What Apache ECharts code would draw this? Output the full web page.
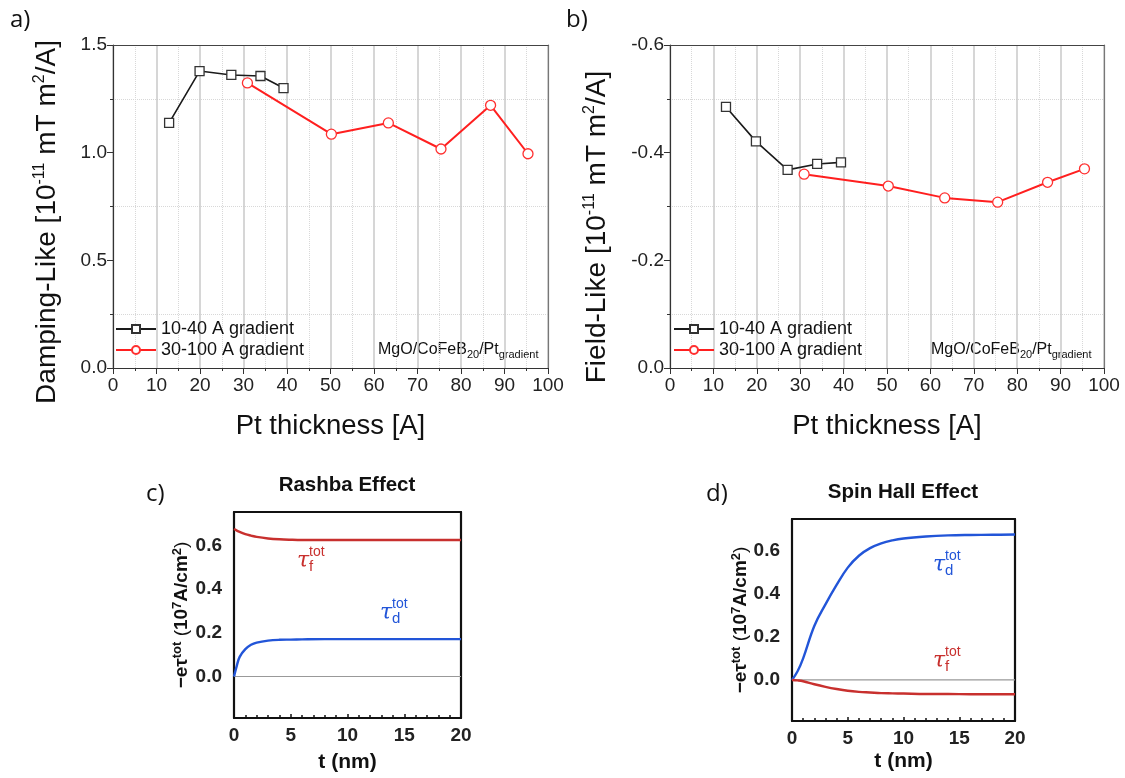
<!DOCTYPE html>
<html><head><meta charset="utf-8">
<script src="https://cdn.jsdelivr.net/npm/echarts@6/dist/echarts.min.js"></script>
<style>html,body{margin:0;padding:0;background:#fff}#c{width:1125px;height:778px}</style>
</head><body><div id="c"></div>
<script>
// ---------- data ----------
// Panel a: Damping-like torque vs Pt thickness
const thickA_black = [12.9, 19.9, 27.2, 33.9, 39.2];
const dampA_black  = [1.138, 1.379, 1.361, 1.356, 1.300];
const thickA_red   = [30.9, 50.2, 63.3, 75.4, 86.8, 95.4];
const dampA_red    = [1.324, 1.086, 1.138, 1.017, 1.220, 0.995];
// Panel b: Field-like torque vs Pt thickness
const thickB_black = [12.9, 19.8, 27.1, 33.9, 39.4];
const fieldB_black = [-0.485, -0.421, -0.368, -0.379, -0.382];
const thickB_red   = [30.9, 50.3, 63.3, 75.5, 87.0, 95.5];
const fieldB_red   = [-0.360, -0.338, -0.316, -0.308, -0.345, -0.370];
// Panel c: Rashba effect
const tC       = [0, 0.25, 0.5, 1, 1.5, 2, 3, 4, 5, 6, 8, 10, 15, 20];
const rashbaF  = [0.675, 0.668, 0.662, 0.652, 0.645, 0.639, 0.632, 0.628, 0.626, 0.625, 0.625, 0.625, 0.625, 0.625];
const rashbaD  = [0, 0.05, 0.09, 0.125, 0.145, 0.155, 0.164, 0.168, 0.169, 0.170, 0.171, 0.171, 0.171, 0.171];
// Panel d: Spin Hall effect
const tD       = [0, 0.5, 1, 2, 3, 4, 5, 6, 7, 8, 9, 10, 12, 14, 16, 18, 20];
const shD      = [0, 0.04, 0.10, 0.25, 0.35, 0.44, 0.52, 0.575, 0.61, 0.632, 0.646, 0.655, 0.664, 0.669, 0.671, 0.672, 0.673];
const shF      = [0, -0.002, -0.006, -0.02, -0.032, -0.042, -0.05, -0.055, -0.058, -0.061, -0.062, -0.063, -0.065, -0.065, -0.066, -0.066, -0.066];
// tick labels
const torqueTicks = [0, 0.2, 0.4, 0.6];
const legendNames = ['10-40 A gradient', '30-100 A gradient'];

const pairs = (xs, ys) => xs.map((x, i) => [x, ys[i]]);
const SANS = 'Liberation Sans, Arial, sans-serif';

// ---------- axes ----------
function thickX(grid) {
  return {
    gridIndex: grid, type: 'value', min: 0, max: 100, interval: 10,
    axisLine: {show: true, onZero: false, lineStyle: {color: '#333', width: 1.2}},
    axisTick: {show: true, inside: false, length: 6, lineStyle: {color: '#333'}},
    minorTick: {show: true, splitNumber: 2, length: 3, lineStyle: {color: '#333'}},
    axisLabel: {fontSize: 19, color: '#222', margin: 8, fontFamily: SANS},
    splitLine: {show: true, lineStyle: {color: '#c8c8c8', width: 1.5}},
    minorSplitLine: {show: true, lineStyle: {color: '#d8d8d8', type: 'dotted', width: 1}},
    name: 'Pt thickness [A]', nameLocation: 'middle', nameGap: 44,
    nameTextStyle: {fontSize: 27.5, color: '#111', fontFamily: SANS}
  };
}
function frameAx(grid, pos, min, max, color, width, inverse) {
  return {
    gridIndex: grid, type: 'value', position: pos, min: min, max: max, inverse: !!inverse,
    axisLine: {show: true, onZero: false, lineStyle: {color: color, width: width}},
    axisTick: {show: false}, axisLabel: {show: false}, splitLine: {show: false}
  };
}
function torqueY(grid, isA) {
  return {
    gridIndex: grid, type: 'value',
    min: isA ? 0 : -0.6, max: isA ? 1.5 : 0, interval: isA ? 0.5 : 0.2, inverse: !isA,
    axisLine: {show: true, onZero: false, lineStyle: {color: '#333', width: 1.2}},
    axisTick: {show: true, inside: false, length: 6, lineStyle: {color: '#333'}},
    minorTick: {show: true, splitNumber: 2, length: 3, lineStyle: {color: '#333'}},
    axisLabel: {fontSize: 19, color: '#222', margin: 6, fontFamily: SANS, formatter: v => v.toFixed(1)},
    splitLine: {show: false},
    minorSplitLine: {show: true, lineStyle: {color: '#d8d8d8', type: 'dotted', width: 1}}
  };
}
function tX(grid, gap) {
  return {
    gridIndex: grid, type: 'value', min: 0, max: 20, interval: 5,
    axisLine: {show: true, onZero: false, lineStyle: {color: '#111', width: 2.2}},
    axisTick: {show: true, inside: true, length: 4, lineStyle: {color: '#111', width: 1.5}},
    minorTick: {show: true, splitNumber: 5, length: 3, lineStyle: {color: '#111', width: 1.5}},
    axisLabel: {fontSize: 19, color: '#222', margin: 8, fontWeight: 'bold', fontFamily: SANS},
    splitLine: {show: false},
    name: 't (nm)', nameLocation: 'middle', nameGap: gap,
    nameTextStyle: {fontSize: 21, fontWeight: 'bold', color: '#111', fontFamily: SANS}
  };
}
function cY(grid, max) {
  return {
    gridIndex: grid, type: 'value', min: -0.19, max: max,
    axisLine: {show: true, onZero: false, lineStyle: {color: '#111', width: 2.2}},
    axisTick: {show: false},
    axisLabel: {fontSize: 19, color: '#222', margin: 12, fontWeight: 'bold', fontFamily: SANS,
                customValues: torqueTicks, formatter: v => v.toFixed(1)},
    splitLine: {show: false}
  };
}

const xAxis = [
  thickX(0), frameAx(0, 'top', 0, 100, '#444', 1.2),
  thickX(1), frameAx(1, 'top', 0, 100, '#444', 1.2),
  tX(2, 34), frameAx(2, 'top', 0, 20, '#111', 2.2),
  tX(3, 30), frameAx(3, 'top', 0, 20, '#111', 2.2)
];
const yAxis = [
  torqueY(0, true), frameAx(0, 'right', 0, 1.5, '#777', 1.2),
  torqueY(1, false), frameAx(1, 'right', -0.6, 0, '#777', 1.2, true),
  cY(2, 0.753), frameAx(2, 'right', -0.19, 0.753, '#111', 2.2),
  cY(3, 0.745), frameAx(3, 'right', -0.19, 0.745, '#111', 2.2)
];

// ---------- series ----------
function blackSeries(xi, yi, data) {
  return {name: legendNames[0], type: 'line', xAxisIndex: xi, yAxisIndex: yi, data: data,
    symbol: 'rect', symbolSize: 9, z: 3,
    itemStyle: {color: '#fff', borderColor: '#333', borderWidth: 1.3},
    lineStyle: {color: '#1a1a1a', width: 1.6}, emphasis: {disabled: true}};
}
function redSeries(xi, yi, data) {
  return {name: legendNames[1], type: 'line', xAxisIndex: xi, yAxisIndex: yi, data: data,
    symbol: 'circle', symbolSize: 10, z: 3,
    itemStyle: {color: '#fff', borderColor: '#ff3030', borderWidth: 1.3},
    lineStyle: {color: '#ff1f1f', width: 2}, emphasis: {disabled: true}};
}
function curve(xi, yi, data, color) {
  return {type: 'line', xAxisIndex: xi, yAxisIndex: yi, data: data, symbol: 'none',
    smooth: 0.4, lineStyle: {color: color, width: 2.4}, z: 3, silent: true};
}
function zeroLine(xi, yi) {
  return {type: 'line', xAxisIndex: xi, yAxisIndex: yi, data: [[0, 0], [20, 0]], symbol: 'none',
    lineStyle: {color: '#999', width: 1.2}, z: 2, silent: true};
}
const RED = '#c8302e', BLUE = '#2255d8';
const series = [
  blackSeries(0, 0, pairs(thickA_black, dampA_black)),
  redSeries(0, 0, pairs(thickA_red, dampA_red)),
  blackSeries(2, 2, pairs(thickB_black, fieldB_black)),
  redSeries(2, 2, pairs(thickB_red, fieldB_red)),
  zeroLine(4, 4),
  curve(4, 4, pairs(tC, rashbaF), RED),
  curve(4, 4, pairs(tC, rashbaD), BLUE),
  zeroLine(6, 6),
  curve(6, 6, pairs(tD, shD), BLUE),
  curve(6, 6, pairs(tD, shF), RED)
];

// ---------- annotations ----------
function txt(x, y, text, font, fill, align, valign) {
  return {type: 'text', x: x, y: y, silent: true,
    style: {text: text, font: font, fill: fill || '#111', textAlign: align || 'center', textVerticalAlign: valign || 'middle'}};
}
function tau(x, y, sub, color) {
  return [
    txt(x, y, 'τ', 'italic 22px "DejaVu Serif", serif', color),
    txt(x + 6, y - 9, 'tot', '14px ' + SANS, color, 'left'),
    txt(x + 6, y + 6, sub, '15px ' + SANS, color, 'left')
  ];
}
function richText(x, y, text, rich, rot) {
  return {type: 'text', x: x, y: y, rotation: rot || 0, silent: true,
    style: {text: text, rich: rich, textAlign: 'center', textVerticalAlign: 'middle'}};
}
const bigRich = {
  n: {fontSize: 28, fontFamily: SANS, fill: '#111', lineHeight: 30, verticalAlign: 'middle'},
  s: {fontSize: 16, fontFamily: SANS, fill: '#111', lineHeight: 16, verticalAlign: 'top'}
};
const smallRich = {
  n: {fontSize: 19, fontWeight: 'bold', fontFamily: SANS, fill: '#111', lineHeight: 22, verticalAlign: 'middle'},
  p: {fontSize: 19, fontFamily: SANS, fill: '#111', lineHeight: 22, verticalAlign: 'middle'},
  s: {fontSize: 13, fontWeight: 'bold', fontFamily: SANS, fill: '#111', lineHeight: 13, verticalAlign: 'top'}
};
const mgoRich = {
  n: {fontSize: 16, fontFamily: SANS, fill: '#111', lineHeight: 21, verticalAlign: 'middle'},
  s: {fontSize: 11, fontFamily: SANS, fill: '#111', lineHeight: 11, verticalAlign: 'bottom'}
};
const mgoText = '{n|MgO/CoFeB}{s|20}{n|/Pt}{s|gradient}';
const torqueName = '{n|−eτ}{s|tot}{p| (}{n|10}{s|7}{n|A/cm}{s|2}{p|)}';
const LETTER = '24px "Open Sans", sans-serif';
const R90 = Math.PI / 2;
const graphic = [
  txt(10, 20, 'a)', LETTER, '#111', 'left'),
  txt(566, 20, 'b)', LETTER, '#111', 'left'),
  txt(146, 494, 'c)', LETTER, '#111', 'left'),
  txt(706, 494, 'd)', LETTER, '#111', 'left'),
  txt(347, 485, 'Rashba Effect', 'bold 20.5px ' + SANS, '#111'),
  txt(903, 492, 'Spin Hall Effect', 'bold 20.5px ' + SANS, '#111'),
  richText(47, 222, '{n|Damping-Like [10}{s|-11}{n| mT m}{s|2}{n|/A]}', bigRich, R90),
  richText(597, 227, '{n|Field-Like [10}{s|-11}{n| mT m}{s|2}{n|/A]}', bigRich, R90),
  richText(182, 615, torqueName, smallRich, R90),
  richText(741, 620, torqueName, smallRich, R90),
  Object.assign(richText(378, 350, mgoText, mgoRich), {}),
  Object.assign(richText(931, 350, mgoText, mgoRich), {}),
  ...tau(303, 561, 'f', RED),
  ...tau(386, 613, 'd', BLUE),
  ...tau(939, 565, 'd', BLUE),
  ...tau(939, 661, 'f', RED)
];
graphic[10].style.textAlign = 'left';
graphic[11].style.textAlign = 'left';

const legendBase = {orient: 'vertical', data: legendNames, itemWidth: 40, itemHeight: 10, itemGap: 3, padding: 0,
  textStyle: {fontSize: 18, color: '#111', fontFamily: SANS}, selectedMode: false};

const option = {
  backgroundColor: '#fff',
  animation: false,
  grid: [
    {left: 113, top: 45, width: 435, height: 323},
    {left: 670, top: 45, width: 434, height: 323},
    {left: 234, top: 512, width: 227, height: 206},
    {left: 792, top: 519, width: 223, height: 202}
  ],
  legend: [
    Object.assign({left: 115, top: 320}, legendBase),
    Object.assign({left: 673, top: 320}, legendBase)
  ],
  xAxis: xAxis, yAxis: yAxis, series: series,
  graphic: {elements: graphic}
};
const chart = echarts.init(document.getElementById('c'));
chart.setOption(option);
</script></body></html>
